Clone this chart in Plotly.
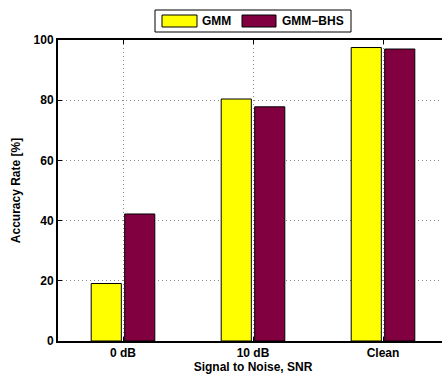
import plotly.graph_objects as go

categories = ["0 dB", "10 dB", "Clean"]
gmm = [19.1, 80.4, 97.5]
gmm_bhs = [42.2, 77.8, 97.0]
series_names = ["GMM", "GMM\u2212BHS"]
colors = ["#FFFF00", "#800040"]
y_ticks = [0, 20, 40, 60, 80, 100]

FONT = "Liberation Sans, Arial, sans-serif"
L, R, T, B = 58, 0, 40, 33
W, H = 448, 374
PW, PH = W - L - R, H - T - B

fig = go.Figure()
for name, vals, col in zip(series_names, [gmm, gmm_bhs], colors):
    fig.add_trace(go.Bar(
        x=list(range(len(categories))), y=vals, name=name,
        marker=dict(color=col, line=dict(color="black", width=1)),
        showlegend=False, hoverinfo="skip",
    ))

fig.update_layout(
    width=W, height=H,
    margin=dict(l=L, r=R, t=T, b=B, autoexpand=False),
    plot_bgcolor="white", paper_bgcolor="white",
    barmode="group", bargap=0.485, bargroupgap=0.1,
    font=dict(family=FONT, size=12, color="black"),
    xaxis=dict(
        range=[-0.5, 2.5],
        tickmode="array", tickvals=list(range(len(categories))), ticktext=categories,
        tickfont=dict(family=FONT, size=12, color="black", weight="bold"),
        showline=True, linecolor="black", linewidth=2, mirror="ticks",
        ticks="inside", ticklen=4, tickcolor="black",
        showgrid=True, gridcolor="#888888", griddash="1px,3px", gridwidth=1,
        zeroline=False,
        title=dict(text="<b>Signal to Noise, SNR</b>", standoff=1,
                   font=dict(family=FONT, size=12, color="black")),
    ),
    yaxis=dict(
        range=[0, 100],
        tickmode="array", tickvals=y_ticks, ticktext=[str(v) for v in y_ticks],
        tickfont=dict(family=FONT, size=12, color="black", weight="bold"),
        showline=True, linecolor="black", linewidth=2, mirror=False,
        ticks="inside", ticklen=4, tickcolor="black",
        showgrid=True, gridcolor="#888888", griddash="1px,3px", gridwidth=1,
        zeroline=False,
        title=dict(text="<b>Accuracy Rate [%]</b>", standoff=10,
                   font=dict(family=FONT, size=12, color="black")),
    ),
)

def fx(x): return (x - L) / PW
def fy(y): return (H - B - y) / PH

# Manual legend box (MATLAB style)
fig.add_shape(type="rect", xref="paper", yref="paper",
              x0=fx(155), x1=fx(351), y0=fy(32), y1=fy(10),
              line=dict(color="black", width=1), fillcolor="white")
items = [(162, 197, 200, series_names[0], colors[0]),
         (242, 276, 280, series_names[1], colors[1])]
for sx0, sx1, tx, name, col in items:
    fig.add_shape(type="rect", xref="paper", yref="paper",
                  x0=fx(sx0), x1=fx(sx1), y0=fy(27), y1=fy(15),
                  line=dict(color="black", width=1), fillcolor=col)
    fig.add_annotation(xref="paper", yref="paper", x=fx(tx), y=fy(21),
                       text="<b>%s</b>" % name, showarrow=False, xanchor="left",
                       yanchor="middle", font=dict(family=FONT, size=12, color="black"))

fig.write_html("out.html", config={"displayModeBar": False},
               post_script=("document.documentElement.style.overflow='hidden';"
                            "document.body.style.margin='0';"
                            "document.body.style.overflow='hidden';"))
